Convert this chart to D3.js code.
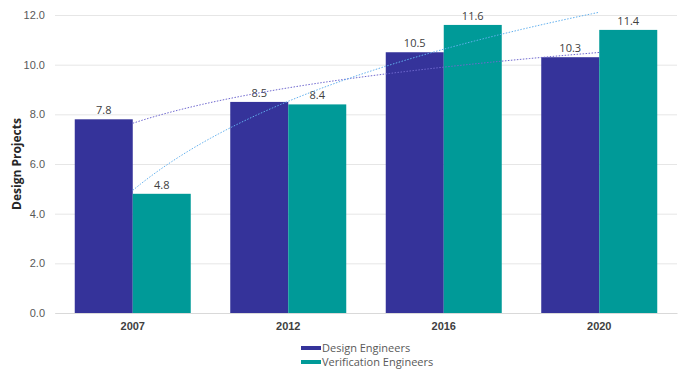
<!DOCTYPE html>
<html>
<head>
<meta charset="utf-8">
<script src="https://cdn.jsdelivr.net/npm/d3@7"></script>
<style>
  html, body { margin: 0; padding: 0; background: #fff; }
  svg { display: block; font-family: "Open Sans", "Noto Sans", sans-serif; }
</style>
</head>
<body>
<svg id="chart" width="682" height="372"></svg>
<script>
// Chart data
const years = ["2007", "2012", "2016", "2020"];
const seriesNames = ["Design Engineers", "Verification Engineers"];
const designValues = [7.8, 8.5, 10.5, 10.3];
const verificationValues = [4.8, 8.4, 11.6, 11.4];
const yTicks = [0, 2, 4, 6, 8, 10, 12];

const colors = { "Design Engineers": "#35339a", "Verification Engineers": "#009a98" };
const trendColors = { "Design Engineers": "#6f68cf", "Verification Engineers": "#62b0ee" };

const series = [
  { name: seriesNames[0], values: designValues },
  { name: seriesNames[1], values: verificationValues }
];

const svg = d3.select("#chart");
const plot = { left: 55, right: 677, top: 15, bottom: 313 };

const x = d3.scaleBand().domain(years)
  .range([plot.left, plot.right])
  .paddingInner(0.254).paddingOuter(0.127);
const xs = d3.scaleBand().domain(seriesNames).range([0, x.bandwidth()]);
const y = d3.scaleLinear().domain([0, 12]).range([plot.bottom, plot.top]);

// Gridlines and y tick labels
const yAxis = d3.axisLeft(y).tickValues(yTicks).tickFormat(d3.format(".1f"))
  .tickSize(-(plot.right - plot.left)).tickPadding(10);
const gy = svg.append("g").attr("transform", `translate(${plot.left},0)`).call(yAxis);
gy.select(".domain").remove();
gy.selectAll(".tick line").attr("stroke", "#e6e6e6");
gy.selectAll(".tick text").attr("fill", "#595959").style("font-size", "11px");

// Category axis labels
const xAxis = d3.axisBottom(x).tickSize(0).tickPadding(9);
const gx = svg.append("g").attr("transform", `translate(0,${plot.bottom})`).call(xAxis);
gx.select(".domain").attr("stroke", "#d9d9d9");
gx.selectAll(".tick text").attr("fill", "#404040")
  .style("font-size", "11px").style("font-weight", "bold");

// Bars
const groups = svg.append("g").selectAll("g")
  .data(years).join("g")
  .attr("transform", d => `translate(${x(d)},0)`);

groups.selectAll("rect")
  .data((d, i) => series.map(s => ({ name: s.name, value: s.values[i] })))
  .join("rect")
  .attr("x", d => xs(d.name))
  .attr("width", xs.bandwidth())
  .attr("y", d => y(d.value))
  .attr("height", d => y(0) - y(d.value))
  .attr("fill", d => colors[d.name]);

// Value labels
groups.selectAll("text.val")
  .data((d, i) => series.map(s => ({ name: s.name, value: s.values[i] })))
  .join("text")
  .attr("class", "val")
  .attr("x", d => xs(d.name) + xs.bandwidth() / 2)
  .attr("y", d => y(d.value) - 5)
  .attr("text-anchor", "middle")
  .attr("fill", "#404040")
  .style("font-size", "11px")
  .text(d => d.value.toFixed(1));

// Logarithmic trendlines (least squares on ln of category index)
function logFit(vals) {
  const lx = vals.map((v, i) => Math.log(i + 1));
  const mx = d3.mean(lx), my = d3.mean(vals);
  const b = d3.sum(lx, (l, i) => (l - mx) * (vals[i] - my)) / d3.sum(lx, l => (l - mx) ** 2);
  const a = my - b * mx;
  return t => a + b * Math.log(t);
}

const cx = i => {
  const lo = x(years[0]) + x.bandwidth() / 2;
  return lo + (i - 1) * x.step();
};

series.forEach(s => {
  const f = logFit(s.values);
  const pts = d3.range(1, years.length + 0.001, 0.05).map(t => [cx(t), y(f(t))]);
  svg.append("path")
    .attr("d", d3.line()(pts))
    .attr("fill", "none")
    .attr("stroke", trendColors[s.name])
    .attr("stroke-width", 1)
    .attr("stroke-dasharray", "1.5,1.5");
});

// Y axis title
svg.append("text")
  .attr("transform", `translate(21,${(plot.top + plot.bottom) / 2}) rotate(-90)`)
  .attr("text-anchor", "middle")
  .attr("fill", "#262626")
  .style("font-size", "12px")
  .style("font-weight", "bold")
  .text("Design Projects");

// Legend
const legend = svg.append("g").attr("transform", "translate(301,348)");
seriesNames.forEach((n, i) => {
  const g = legend.append("g").attr("transform", `translate(0,${i * 14})`);
  g.append("rect").attr("x", 0).attr("y", -2).attr("width", 20).attr("height", 4)
    .attr("fill", colors[n]);
  g.append("text").attr("x", 21).attr("y", 4)
    .attr("fill", "#595959").style("font-size", "11px").text(n);
});
</script>
</body>
</html>
